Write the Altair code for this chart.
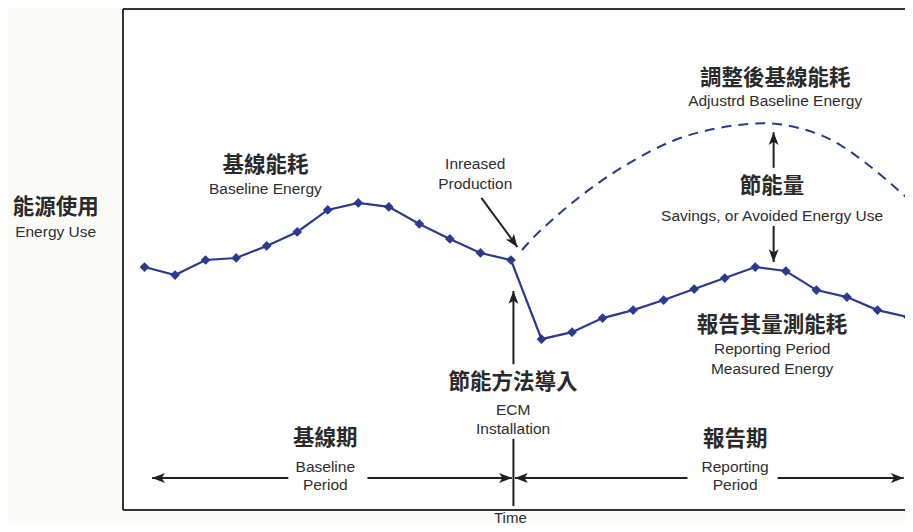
import altair as alt
import pandas as pd

# ---------------- data ----------------
baseline_months = list(range(1, 14))
baseline_energy = [48.5, 46.9, 49.9, 50.3, 52.7, 55.5, 59.9, 61.3, 60.5, 57.1, 54.1, 51.3, 49.9]

reporting_months = list(range(14, 27))
reporting_energy = [34.1, 35.5, 38.3, 39.9, 41.9, 44.1, 46.3, 48.5, 47.7, 43.9, 42.5, 39.9, 38.5]

adjusted_months = [13.36, 13.69, 14.61, 15.82, 17.0, 18.31, 19.75, 21.38, 22.46, 23.54, 24.65, 25.93]
adjusted_energy = [51.9, 54.1, 59.3, 65.1, 69.7, 73.7, 76.2, 77.2, 76.2, 73.7, 69.1, 62.5]

# axis extents (months / energy units); the right edge is cut off as in the source
x_domain = [0.296, 25.902]
y_domain = [0, 100]

# annotation texts (Chinese, bold)
cjk_text = ["基線能耗", "調整後基線能耗", "節能量", "報告其量測能耗", "節能方法導入", "基線期", "報告期", "能源使用"]
cjk_m = [4.96, 21.65, 21.55, 21.55, 13.07, 6.92, 20.34, -1.91]
cjk_v = [68.7, 86.0, 64.5, 36.7, 25.3, 14.2, 14.0, 60.3]

# annotation texts (English)
lat_text = ["Baseline Energy", "Inreased", "Production", "Adjustrd Baseline Energy",
            "Savings, or Avoided Energy Use", "Reporting Period", "Measured Energy",
            "ECM", "Installation", "Baseline", "Period", "Reporting", "Period",
            "Energy Use"]
lat_m = [4.96, 11.83, 11.83, 21.65, 21.55, 21.55, 21.55, 13.07, 13.07, 6.92, 6.92,
         20.34, 20.34, -1.91]
lat_v = [64.1, 69.1, 65.1, 81.6, 58.7, 32.1, 28.1, 20.0, 16.2, 8.6, 5.0, 8.6, 5.0, 55.5]

# x-axis title
time_text = ["Time"]
time_m = [12.98]
time_v = [-2.55]

# arrows: start (m, v) -> tip (m2, v2), head angle
arrow_m = [12.03, 13.08, 21.6, 21.6, 5.71, 8.30, 18.78, 21.73]
arrow_v = [62.3, 29.1, 68.3, 56.7, 6.4, 6.4, 6.4, 6.4]
arrow_m2 = [13.21, 13.08, 21.6, 21.6, 1.25, 13.03, 13.13, 25.86]
arrow_v2 = [52.5, 43.7, 75.4, 49.5, 6.4, 6.4, 6.4, 6.4]
arrow_ang = [144, 0, 0, 180, 270, 90, 270, 90]

# ---------------- tables ----------------
measured = pd.DataFrame({
    "m": baseline_months + reporting_months,
    "v": baseline_energy + reporting_energy,
})
adjusted = pd.DataFrame({"m": adjusted_months, "v": adjusted_energy})
cjk = pd.DataFrame({"m": cjk_m, "v": cjk_v, "t": cjk_text})
lat = pd.DataFrame({"m": lat_m, "v": lat_v, "t": lat_text})
tim = pd.DataFrame({"m": time_m, "v": time_v, "t": time_text})
arrows = pd.DataFrame({"m": arrow_m, "v": arrow_v, "m2": arrow_m2, "v2": arrow_v2})
heads = pd.DataFrame({"m": arrow_m2, "v": arrow_v2, "ang": arrow_ang})
divider = pd.DataFrame({"m": [13.08], "v": [14.2], "m2": [13.08], "v2": [0.8]})
frame = pd.DataFrame({
    "m": [x_domain[0], x_domain[0], x_domain[0]],
    "v": [y_domain[1], y_domain[0], y_domain[0]],
    "m2": [x_domain[1] + 1, x_domain[0], x_domain[1] + 1],
    "v2": [y_domain[1], y_domain[1], y_domain[0]],
})

xs = alt.Scale(domain=x_domain, nice=False, zero=False)
ys = alt.Scale(domain=y_domain, nice=False, zero=False)
X = alt.X("m:Q", scale=xs, axis=None)
Y = alt.Y("v:Q", scale=ys, axis=None)

NAVY = "#2b3990"
INK = "#231f20"

frame_l = alt.Chart(frame).mark_rule(color="#333333", strokeWidth=2).encode(
    x=X, y=Y, x2="m2:Q", y2="v2:Q")

dashed = alt.Chart(adjusted).mark_line(
    color=NAVY, strokeWidth=2, strokeDash=[10, 7], interpolate="monotone").encode(x=X, y=Y)

line = alt.Chart(measured).mark_line(color=NAVY, strokeWidth=2.2).encode(x=X, y=Y)
pts = alt.Chart(measured).mark_point(
    shape="diamond", filled=True, size=95, color=NAVY, opacity=1).encode(x=X, y=Y)

arrow_lines = alt.Chart(arrows).mark_rule(color=INK, strokeWidth=2).encode(
    x=X, y=Y, x2="m2:Q", y2="v2:Q")
div_line = alt.Chart(divider).mark_rule(color=INK, strokeWidth=2).encode(
    x=X, y=Y, x2="m2:Q", y2="v2:Q")
arrow_heads = alt.Chart(heads).mark_point(
    shape="M0,0 L0.62,1.6 L0,1.2 L-0.62,1.6 Z", filled=True, size=256,
    color=INK, opacity=1).encode(x=X, y=Y, angle=alt.Angle("ang:Q", scale=None))

cjk_l = alt.Chart(cjk).mark_text(
    font="Noto Sans CJK TC", fontSize=21.5, fontWeight="bold", color="#2a2a2a",
    align="center", baseline="middle").encode(x=X, y=Y, text="t:N")
lat_l = alt.Chart(lat).mark_text(
    font="Liberation Sans", fontSize=15.5, color="#2e2e2e",
    align="center", baseline="middle").encode(x=X, y=Y, text="t:N")
time_l = alt.Chart(tim).mark_text(
    font="Liberation Sans", fontSize=15, color="#2e2e2e",
    align="center", baseline="alphabetic").encode(x=X, y=Y, text="t:N")

chart = alt.layer(
    frame_l, dashed, line, pts, arrow_lines, div_line, arrow_heads, cjk_l, lat_l, time_l
).properties(
    width=782, height=501,
    padding={"left": 115, "top": 1, "right": 0, "bottom": 14},
    autosize=alt.AutoSizeParams(type="none"),
    background="#fbfcf8",
).configure_view(stroke=None, fill="white")

chart.save("out.html", embed_options={"renderer": "svg", "actions": False})
